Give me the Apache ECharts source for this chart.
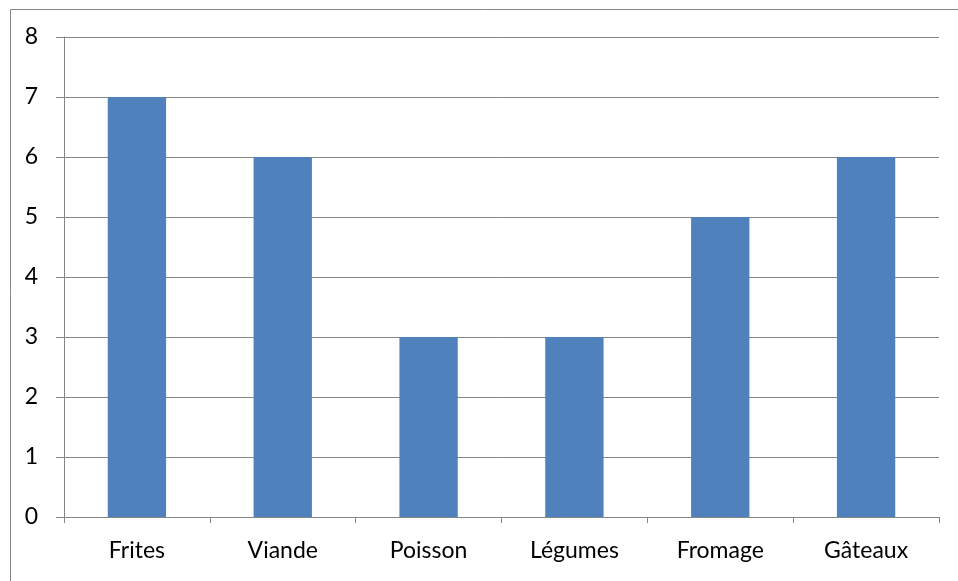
<!DOCTYPE html>
<html><head><meta charset="utf-8">
<script src="https://cdn.jsdelivr.net/npm/echarts@6/dist/echarts.min.js"></script>
<style>html,body{margin:0;padding:0;background:#fff}#c{width:958px;height:581px}</style>
</head><body><div id="c"></div>
<script>
const categories = ['Frites', 'Viande', 'Poisson', 'Légumes', 'Fromage', 'Gâteaux'];
const values = [7, 6, 3, 3, 5, 6];
const yMin = 0, yMax = 8, yStep = 1;

const chart = echarts.init(document.getElementById('c'), null, {renderer: 'canvas'});
chart.setOption({
  animation: false,
  backgroundColor: '#fff',
  graphic: [{
    type: 'rect', left: 8, top: 7, z: -1,
    shape: {width: 1000, height: 1000},
    style: {fill: 'none', stroke: '#868686', lineWidth: 1}
  }],
  grid: {left: 64, right: 19, top: 37, bottom: 64, containLabel: false},
  xAxis: {
    type: 'category', data: categories,
    axisLine: {lineStyle: {color: '#868686', width: 1}},
    axisTick: {show: true, length: 6, alignWithLabel: false, lineStyle: {color: '#868686'}},
    axisLabel: {color: '#000', fontFamily: 'Lato', fontSize: 23, margin: 22}
  },
  yAxis: {
    type: 'value', min: yMin, max: yMax, interval: yStep,
    axisLine: {show: true, lineStyle: {color: '#868686', width: 1}},
    axisTick: {show: true, length: 8, lineStyle: {color: '#868686'}},
    splitLine: {show: true, lineStyle: {color: '#868686', width: 1}},
    axisLabel: {color: '#000', fontFamily: 'Lato', fontSize: 23, margin: 26}
  },
  series: [{
    type: 'bar', data: values, barCategoryGap: '60%',
    itemStyle: {color: '#4F81BD'}
  }]
});
</script></body></html>
